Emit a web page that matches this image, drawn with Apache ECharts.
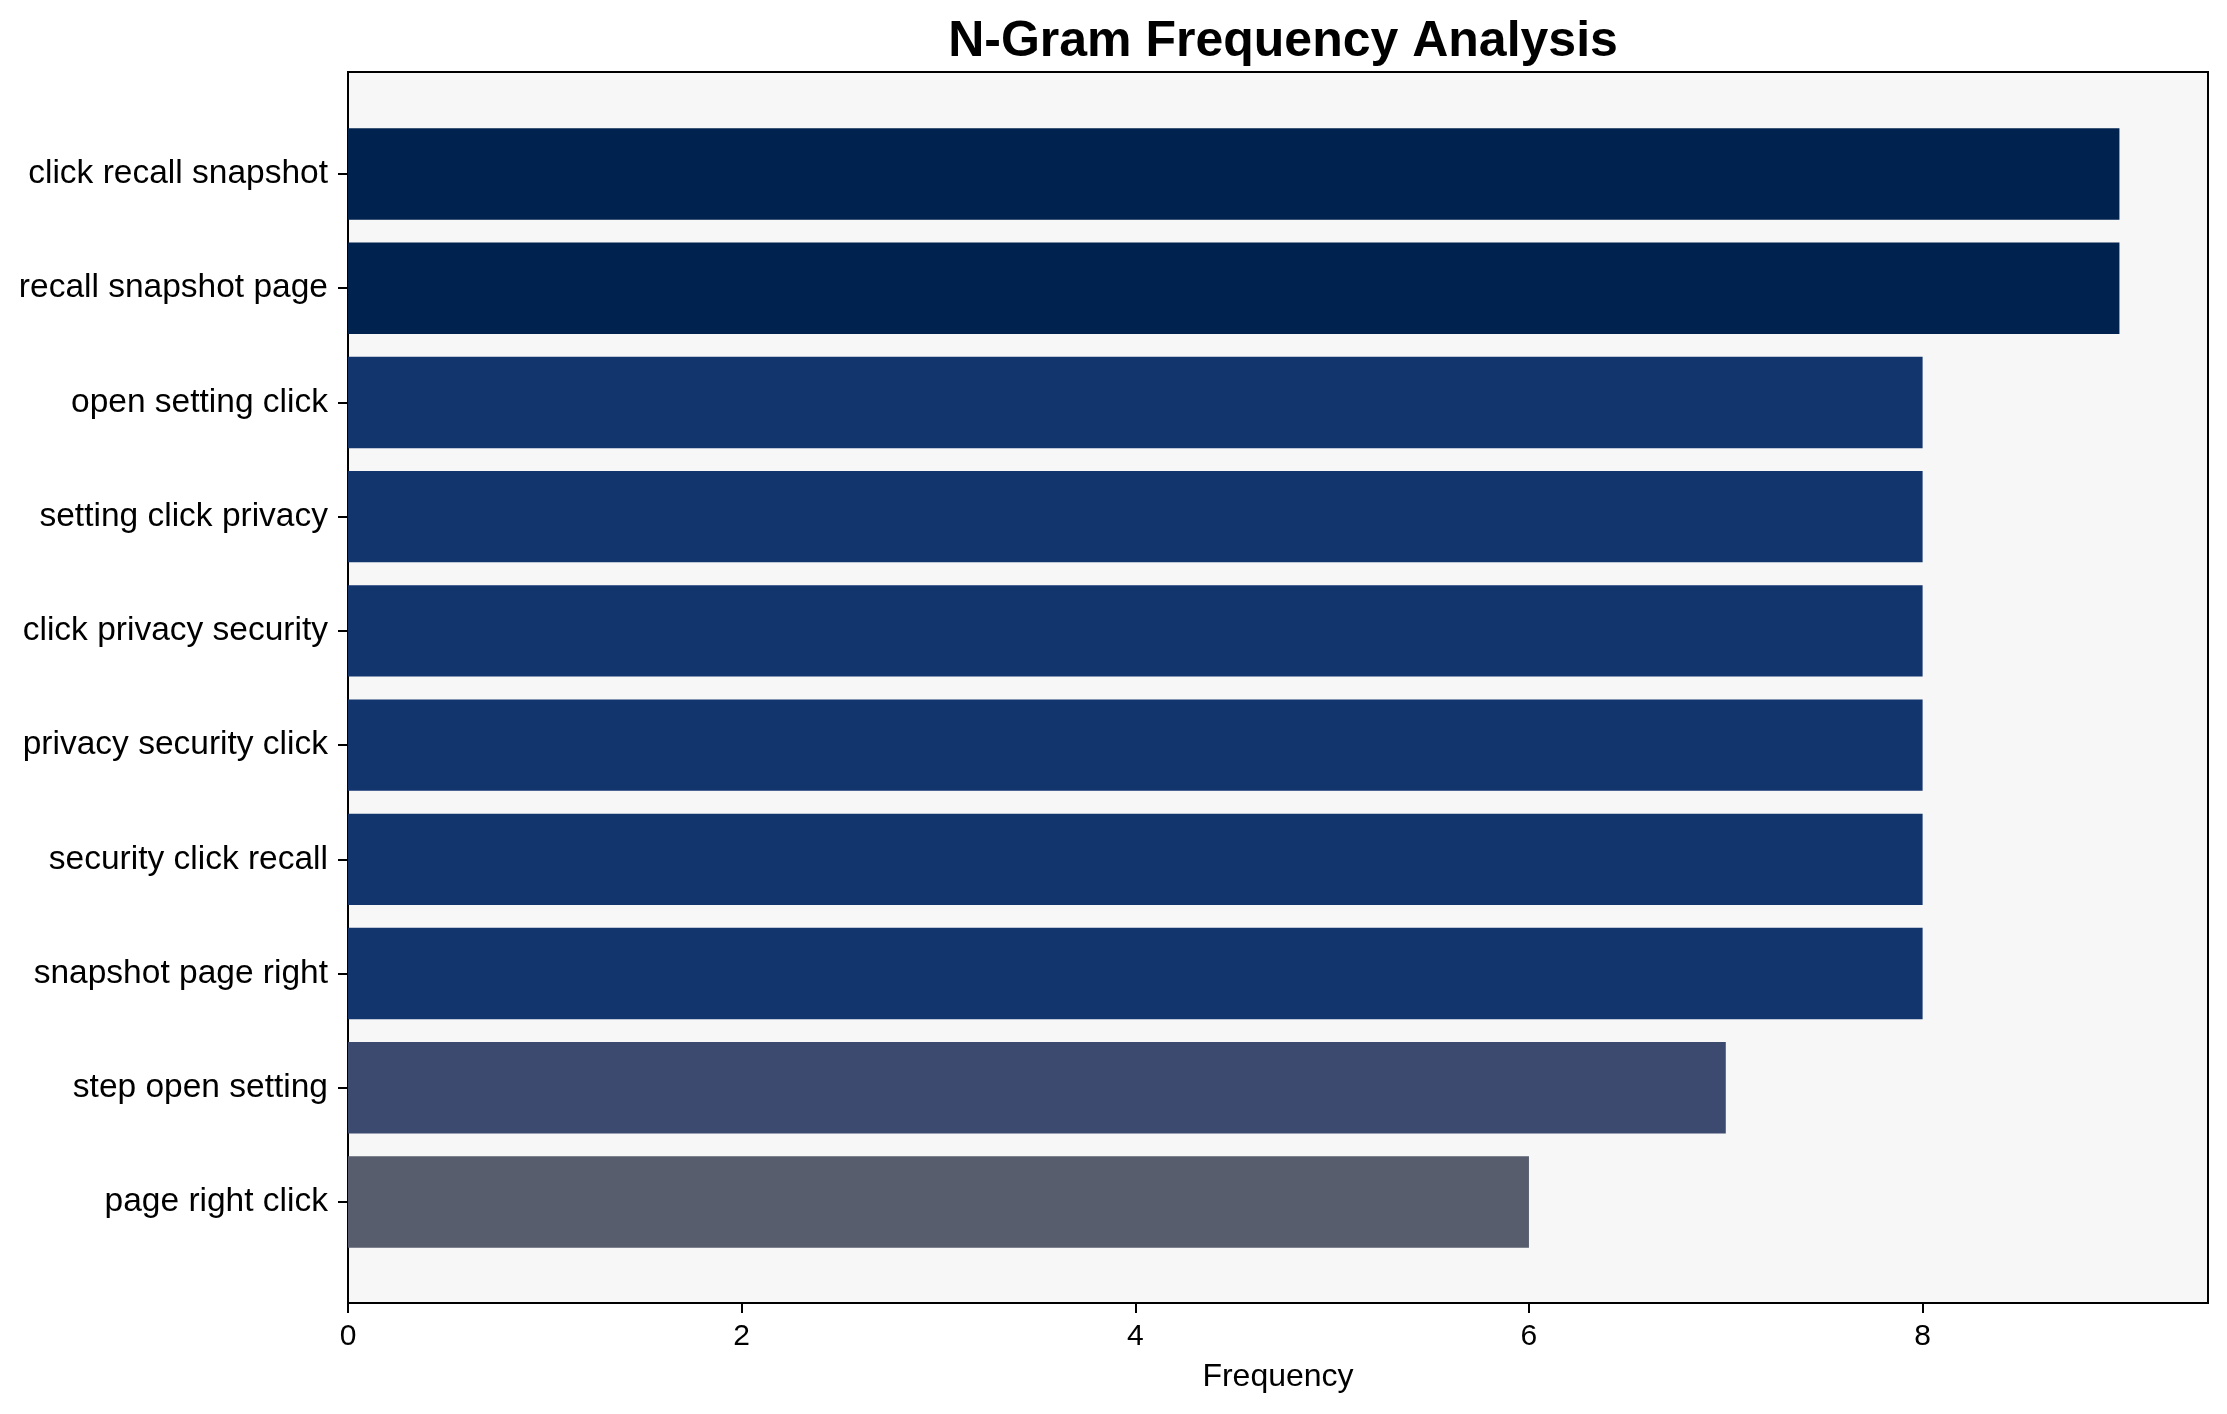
<!DOCTYPE html>
<html>
<head>
<meta charset="utf-8">
<script src="https://cdn.jsdelivr.net/npm/echarts@6/dist/echarts.min.js"></script>
<style>
  html, body { margin: 0; padding: 0; background: #ffffff; }
  #chart { width: 2227px; height: 1414px; }
</style>
</head>
<body>
<div id="chart"></div>
<script>
// ---- Data ----
const categories = [
  'click recall snapshot',
  'recall snapshot page',
  'open setting click',
  'setting click privacy',
  'click privacy security',
  'privacy security click',
  'security click recall',
  'snapshot page right',
  'step open setting',
  'page right click'
];
const frequencies = [9, 9, 8, 8, 8, 8, 8, 8, 7, 6];
const xTicks = [0, 2, 4, 6, 8];

// ---- Styles ----
const colorByValue = { 9: '#00224E', 8: '#13356E', 7: '#3B4A6E', 6: '#575D6D' };
const FONT = '"Liberation Sans", Arial, Helvetica, sans-serif';

const chart = echarts.init(document.getElementById('chart'), null, { renderer: 'canvas' });

chart.setOption({
  animation: false,
  backgroundColor: '#ffffff',
  textStyle: { fontFamily: FONT },
  title: {
    text: 'N-Gram Frequency Analysis',
    left: 1278,
    top: 12,
    textAlign: 'center',
    textStyle: { fontFamily: FONT, fontSize: 50, fontWeight: 'bold', color: '#000000' }
  },
  grid: [
    { left: 348, right: 19, top: 72, bottom: 111, show: true,
      backgroundColor: '#f7f7f7', borderColor: '#000000', borderWidth: 2, containLabel: false },
    { left: 348, right: 19, top: 116.9, bottom: 154.9, containLabel: false }
  ],
  xAxis: [
    {
      gridIndex: 0, type: 'value', min: 0, max: 9.45, interval: 2,
      name: 'Frequency', nameLocation: 'middle', nameGap: 58,
      nameTextStyle: { fontFamily: FONT, fontSize: 32, color: '#000000' },
      axisLine: { show: true, lineStyle: { color: '#000000', width: 2 } },
      axisTick: { show: true, inside: false, length: 10, lineStyle: { color: '#000000', width: 2 } },
      axisLabel: {
        show: true, margin: 19, fontFamily: FONT, fontSize: 30, color: '#000000',
        showMaxLabel: false,
        formatter: function (v) { return xTicks.indexOf(v) >= 0 ? String(v) : ''; }
      },
      splitLine: { show: false }
    },
    { gridIndex: 1, type: 'value', min: 0, max: 9.45, show: false }
  ],
  yAxis: [
    { gridIndex: 0, type: 'value', min: 0, max: 1, show: false },
    {
      gridIndex: 1, type: 'category', data: categories, inverse: true,
      axisLine: { show: true, lineStyle: { color: '#000000', width: 2 } },
      axisTick: { show: true, inside: false, alignWithLabel: true, length: 10,
                  lineStyle: { color: '#000000', width: 2 } },
      axisLabel: { margin: 20, fontFamily: FONT, fontSize: 33.5, color: '#000000',
                   padding: [6, 0, 0, 0] },
      splitLine: { show: false }
    }
  ],
  series: [
    {
      type: 'bar',
      xAxisIndex: 1, yAxisIndex: 1,
      data: frequencies,
      barWidth: '80%',
      itemStyle: {
        color: function (p) { return colorByValue[p.value] || '#13356E'; }
      }
    }
  ]
});
</script>
</body>
</html>
